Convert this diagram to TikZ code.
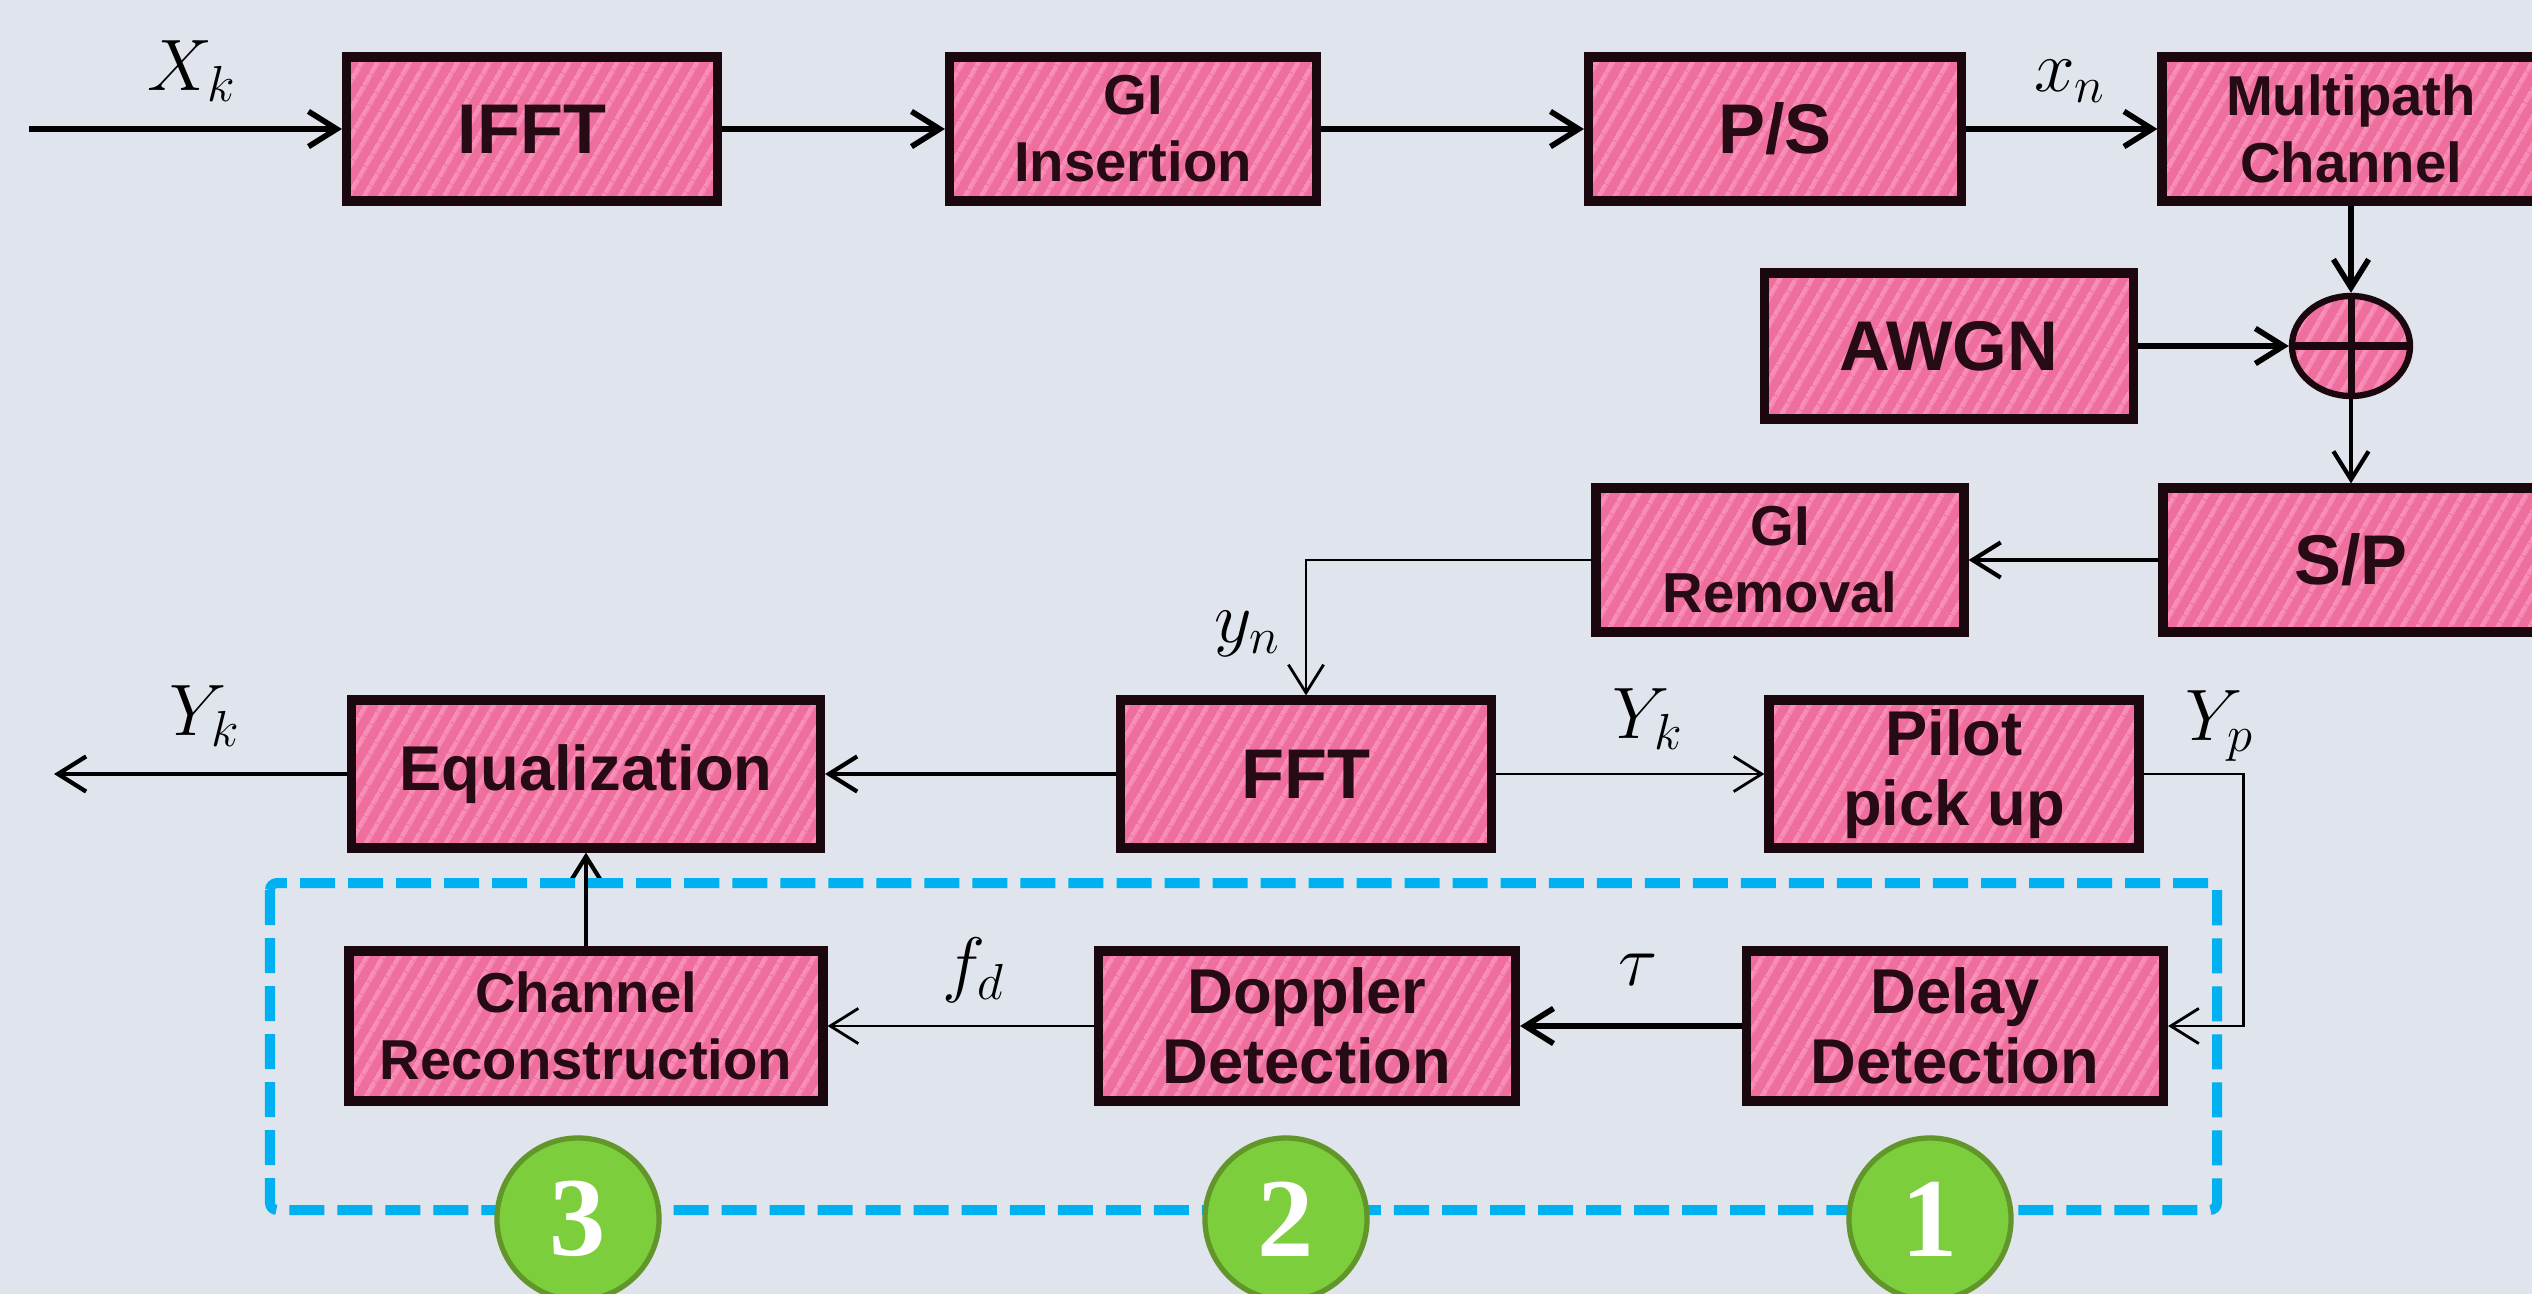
\documentclass[tikz,border=0pt]{standalone}
\usepackage{fontspec}
\setmainfont{Liberation Sans}
\newfontfamily\numfont{Liberation Serif}
\usetikzlibrary{arrows.meta,patterns.meta,shapes.geometric}

\definecolor{bgc}{RGB}{224,228,236}
\definecolor{boxpink}{RGB}{238,110,158}
\definecolor{hatchpink}{RGB}{250,140,186}
\definecolor{boxedge}{RGB}{26,8,14}
\definecolor{boxtext}{RGB}{38,10,20}
\definecolor{loopblue}{RGB}{0,176,240}
\definecolor{stepgreen}{RGB}{125,206,60}
\definecolor{stepedge}{RGB}{98,150,42}

\begin{document}
\begin{tikzpicture}[x=0.01cm,y=-0.01cm,
  hatched/.style={preaction={fill=boxpink},
    preaction={pattern={Lines[angle=60,distance=4pt,line width=1.2pt]},pattern color=hatchpink}},
  blk/.style 2 args={hatched, draw=boxedge, line width=2.6pt,
    minimum width={#1*0.01cm}, minimum height={#2*0.01cm},
    inner sep=0pt, align=center, text=boxtext,
    font=\bfseries\fontsize{20}{24}\selectfont},
  twoline/.style={font=\bfseries\fontsize{16}{19}\selectfont},
  midline/.style={font=\bfseries\fontsize{18}{20}\selectfont},
  sig/.style={font=\fontsize{20}{24}\selectfont, inner sep=0pt},
  tip/.style={-{Straight Barb[length=8pt,width=10pt]}},
  wthick/.style={tip, line width=1.6pt},
  wmid/.style={tip, line width=1.2pt},
  wthin/.style={tip, line width=0.8pt},
  stepmark/.style={circle, minimum size=1.62cm, inner sep=0pt,
    fill=stepgreen, draw=stepedge, line width=1.5pt, text=white,
    font=\numfont\bfseries\fontsize{32}{32}\selectfont}
]
% canvas
\useasboundingbox (0,0) rectangle (2532,1294);
\clip (0,0) rectangle (2532,1294);
\fill[bgc] (0,0) rectangle (2532,1294);

% transmitter chain
\node[blk={371}{144}] (ifft) at (532,129) {IFFT};
\node[blk={367}{144}, twoline] (gins) at (1133,129) {GI\\Insertion};
\node[blk={373}{144}] (ps) at (1775,129) {P/S};
\node[blk={378}{144}, twoline] (mp) at (2351,129) {Multipath\\Channel};

% channel noise
\node[blk={369}{146}] (awgn) at (1949,346) {AWGN};
\node[ellipse, hatched, draw=boxedge, line width=1.8pt,
      minimum width=1.18cm, minimum height=1.0cm, inner sep=0pt] (add) at (2351,346) {};
\draw[boxedge, line width=2pt] (add.north) -- (add.south) (add.west) -- (add.east);

% receiver front end
\node[blk={376}{144}] (sp) at (2351,560) {S/P};
\node[blk={368}{144}, twoline] (grem) at (1780,560) {GI\\Removal};
\node[blk={371}{148}] (fft) at (1306,774) {FFT};
\node[blk={469}{148}, midline] (eq) at (586,774) {Equalization};
\node[blk={370}{148}, midline] (pilot) at (1954,774) {Pilot\\pick up};

% estimation blocks
\node[blk={474}{150}, twoline] (crec) at (586,1026) {Channel\\Reconstruction};
\node[blk={417}{150}, midline] (dopp) at (1307,1026) {Doppler\\Detection};
\node[blk={417}{150}, midline] (delay) at (1955,1026) {Delay\\Detection};

% free ends
\coordinate (in) at (29,129);
\coordinate (out) at (54,774);

% connectors
\draw[wthick] (in) -- (ifft.west);
\draw[wthick] (ifft) -- (gins);
\draw[wthick] (gins) -- (ps);
\draw[wthick] (ps) -- (mp);
\draw[wthick] (mp.south) -- (add.north);
\draw[wthick] (awgn) -- (add.west);
\draw[wmid] (add.south) -- (sp.north);
\draw[wmid] (sp) -- (grem);
\draw[wthin] (grem.west) -| (fft.north);
\draw[wmid] (fft) -- (eq);
\draw[wthin] (fft) -- (pilot);
\draw[wmid] (eq.west) -- (out);
\draw[wthin] (pilot.east) -- ++(100,0) |- (delay.east);
\draw[wthick] (delay) -- (dopp);
\draw[wthin] (dopp) -- (crec);
\draw[wmid] (crec.north) -- (eq.south);

% signal labels
\node[sig] (lxk) at (192,71) {$X_k$};
\node[sig] (lxn) at (2070,81) {$x_n$};
\node[sig] (lyn) at (1248,634) {$y_n$};
\node[sig] (lyko) at (205,716) {$Y_k$};
\node[sig] (lykm) at (1648,719) {$Y_k$};
\node[sig] (lyp) at (2220,726) {$Y_p$};
\node[sig] (ltau) at (1638,970) {$\tau$};
\node[sig] (lfd) at (974,970) {$f_d$};

% estimation loop
\draw[loopblue, line width=0.1cm, dash pattern=on 0.35cm off 0.13cm, rounded corners=2pt]
  (270,883) rectangle (2217,1210);

% step markers
\node[stepmark] (s3) at (578,1219) {3};
\node[stepmark] (s2) at (1286,1219) {2};
\node[stepmark] (s1) at (1930,1219) {1};
\end{tikzpicture}
\end{document}
